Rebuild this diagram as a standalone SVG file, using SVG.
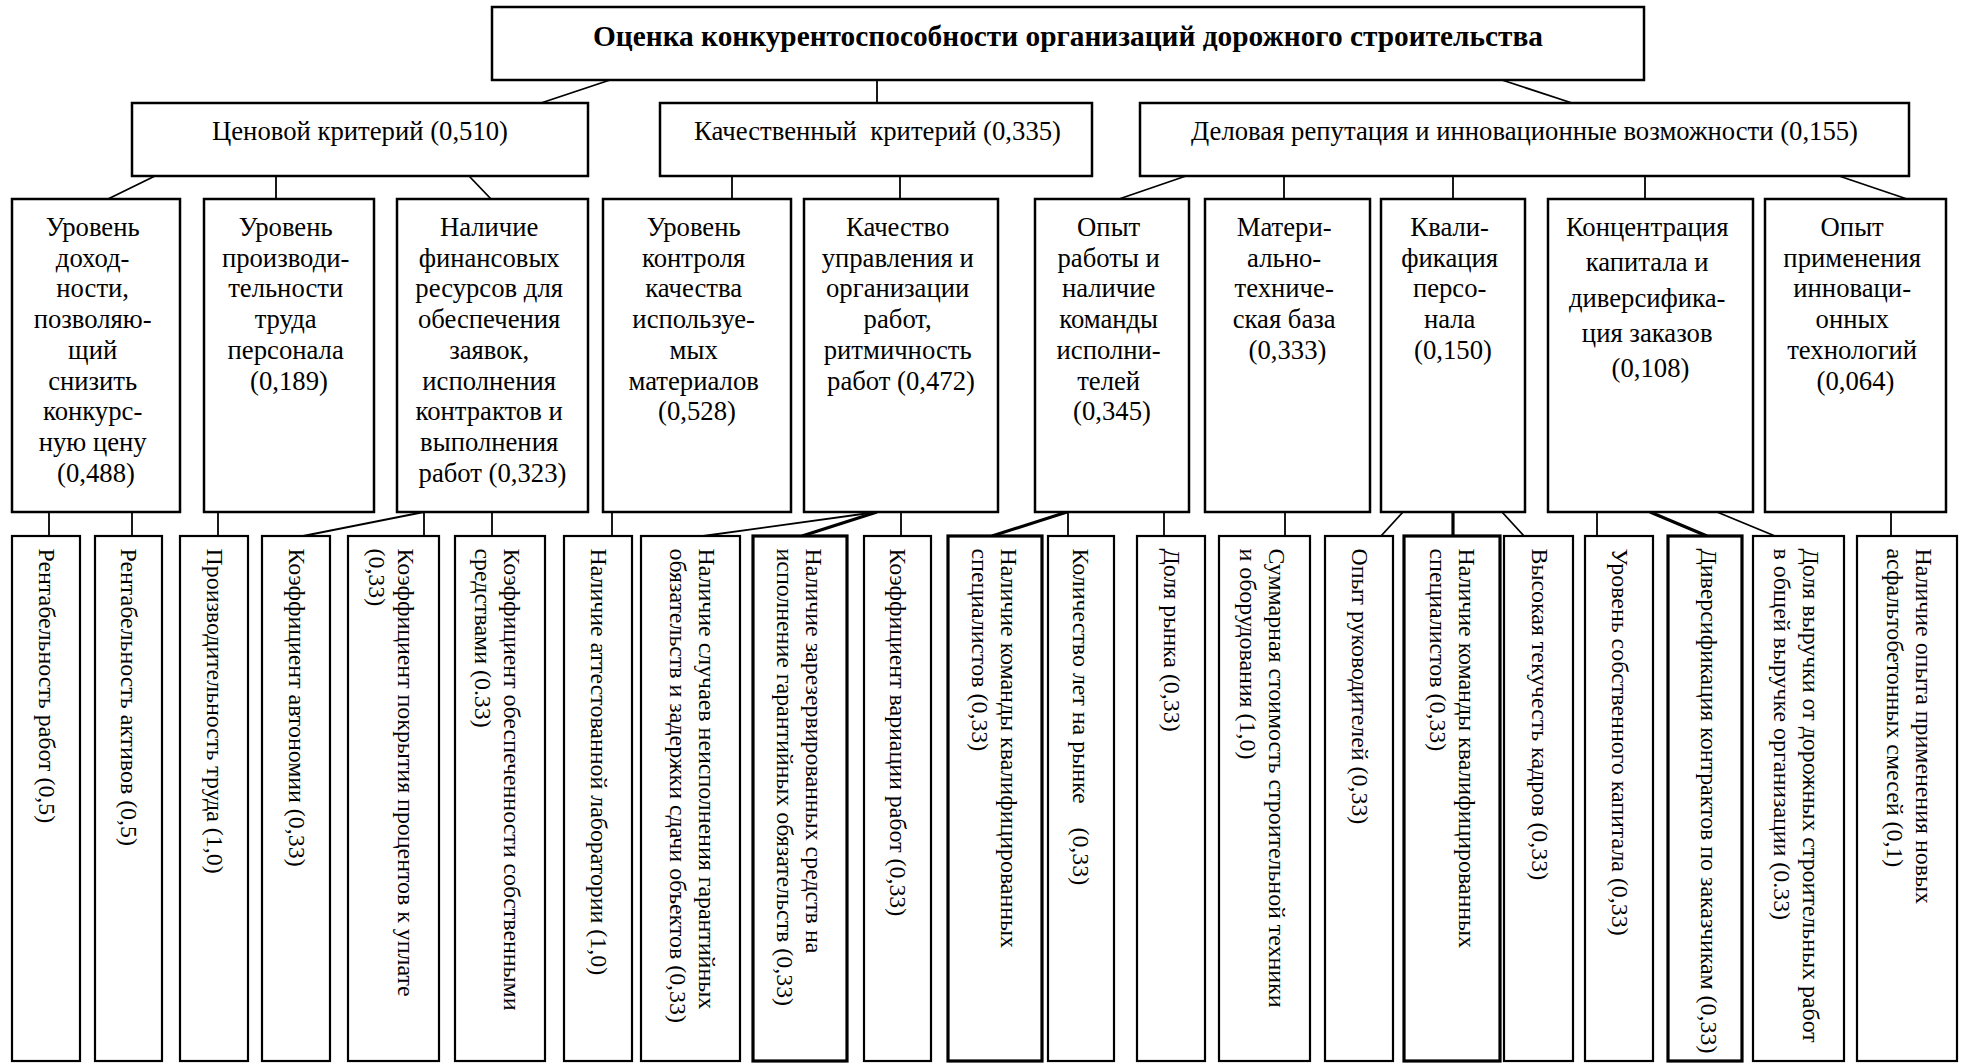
<svg xmlns="http://www.w3.org/2000/svg" width="1963" height="1064" viewBox="0 0 1963 1064">
  <style>
    .box { fill: #fff; stroke: #000; stroke-width: 2.5; }
    .leaf { fill: #fff; stroke: #000; stroke-width: 2.2; }
    .leaf.thick { stroke-width: 3.2; }
    .t { font-family: "Liberation Serif", "Times New Roman", serif; fill: #000; }
    .title { font-size: 29px; font-weight: bold; text-anchor: middle; }
    .l2 { font-size: 27px; text-anchor: middle; }
    .l3 { font-size: 26.7px; text-anchor: middle; }
    .lf { font-size: 23.9px; }
    .c { stroke: #000; stroke-width: 1.8; fill: none; }
    .c.thick { stroke-width: 3.2; }
  </style>
  <rect width="1963" height="1064" fill="#fff"/>

  <!-- connectors -->
  <g id="connectors">
    <line class="c" x1="610" y1="80" x2="541" y2="103"/>
    <line class="c" x1="877" y1="80" x2="877" y2="103"/>
    <line class="c" x1="1502" y1="80" x2="1572" y2="103"/>

    <line class="c" x1="155" y1="176" x2="108" y2="199"/>
    <line class="c" x1="276" y1="176" x2="276" y2="199"/>
    <line class="c" x1="469" y1="176" x2="491" y2="199"/>
    <line class="c" x1="732" y1="176" x2="732" y2="199"/>
    <line class="c" x1="900" y1="176" x2="900" y2="199"/>
    <line class="c" x1="1186" y1="176" x2="1119" y2="199"/>
    <line class="c" x1="1284" y1="176" x2="1284" y2="199"/>
    <line class="c" x1="1453" y1="176" x2="1453" y2="199"/>
    <line class="c" x1="1645" y1="176" x2="1645" y2="199"/>
    <line class="c" x1="1839" y1="176" x2="1907" y2="199"/>

    <line class="c" x1="49" y1="512" x2="49" y2="536"/>
    <line class="c" x1="132" y1="512" x2="132" y2="536"/>
    <line class="c" x1="218" y1="512" x2="218" y2="536"/>
    <line class="c" x1="424" y1="512" x2="303" y2="536"/>
    <line class="c" x1="424" y1="512" x2="424" y2="536"/>
    <line class="c" x1="492" y1="512" x2="492" y2="536"/>
    <line class="c" x1="612" y1="512" x2="612" y2="536"/>
    <line class="c" x1="877" y1="512" x2="703" y2="536"/>
    <line class="c thick" x1="877" y1="512" x2="802" y2="536"/>
    <line class="c" x1="901" y1="512" x2="901" y2="536"/>
    <line class="c thick" x1="1067" y1="512" x2="992" y2="536"/>
    <line class="c" x1="1068" y1="512" x2="1068" y2="536"/>
    <line class="c" x1="1164" y1="512" x2="1164" y2="536"/>
    <line class="c" x1="1285" y1="512" x2="1285" y2="536"/>
    <line class="c" x1="1403" y1="512" x2="1381" y2="536"/>
    <line class="c thick" x1="1453" y1="512" x2="1453" y2="536"/>
    <line class="c" x1="1502" y1="512" x2="1524" y2="536"/>
    <line class="c" x1="1597" y1="512" x2="1597" y2="536"/>
    <line class="c thick" x1="1650" y1="512" x2="1707" y2="536"/>
    <line class="c" x1="1717" y1="512" x2="1775" y2="536"/>
    <line class="c" x1="1891" y1="512" x2="1891" y2="536"/>
  </g>

  <!-- root -->
  <g id="root">
    <rect class="box" x="492" y="7" width="1152" height="73"/>
    <text class="t title" x="1068" y="46" textLength="950" lengthAdjust="spacingAndGlyphs">Оценка конкурентоспособности организаций дорожного строительства</text>
  </g>

  <!-- criteria -->
  <g id="price">
    <rect class="box" x="132" y="103" width="456" height="73"/>
    <text class="t l2" x="360" y="139.5" textLength="296" lengthAdjust="spacingAndGlyphs">Ценовой критерий (0,510)</text>
  </g>
  <g id="quality">
    <rect class="box" x="660" y="103" width="432" height="73"/>
    <text class="t l2" x="877.5" y="139.5" textLength="367" lengthAdjust="spacingAndGlyphs" xml:space="preserve">Качественный  критерий (0,335)</text>
  </g>
  <g id="reputation">
    <rect class="box" x="1140" y="103" width="769" height="73"/>
    <text class="t l2" x="1524.5" y="139.5" textLength="667" lengthAdjust="spacingAndGlyphs">Деловая репутация и инновационные возможности (0,155)</text>
  </g>

  <!-- sub-criteria -->
  <g id="b1">
    <rect class="box" x="12" y="199" width="168" height="313"/>
    <text class="t l3">
      <tspan x="96" y="235.7">Уровень</tspan>
      <tspan x="96" y="266.5">доход-</tspan>
      <tspan x="96" y="297.2">ности,</tspan>
      <tspan x="96" y="328">позволяю-</tspan>
      <tspan x="96" y="358.7">щий</tspan>
      <tspan x="96" y="389.5">снизить</tspan>
      <tspan x="96" y="420.2">конкурс-</tspan>
      <tspan x="96" y="451">ную цену</tspan>
      <tspan x="96" y="481.7">(0,488)</tspan>
    </text>
  </g>
  <g id="b2">
    <rect class="box" x="204" y="199" width="170" height="313"/>
    <text class="t l3">
      <tspan x="289" y="235.7">Уровень</tspan>
      <tspan x="289" y="266.5">производи-</tspan>
      <tspan x="289" y="297.2">тельности</tspan>
      <tspan x="289" y="328">труда</tspan>
      <tspan x="289" y="358.7">персонала</tspan>
      <tspan x="289" y="389.5">(0,189)</tspan>
    </text>
  </g>
  <g id="b3">
    <rect class="box" x="397" y="199" width="191" height="313"/>
    <text class="t l3">
      <tspan x="492.5" y="235.7">Наличие</tspan>
      <tspan x="492.5" y="266.5">финансовых</tspan>
      <tspan x="492.5" y="297.2">ресурсов для</tspan>
      <tspan x="492.5" y="328">обеспечения</tspan>
      <tspan x="492.5" y="358.7">заявок,</tspan>
      <tspan x="492.5" y="389.5">исполнения</tspan>
      <tspan x="492.5" y="420.2">контрактов и</tspan>
      <tspan x="492.5" y="451">выполнения</tspan>
      <tspan x="492.5" y="481.7">работ (0,323)</tspan>
    </text>
  </g>
  <g id="b4">
    <rect class="box" x="603" y="199" width="188" height="313"/>
    <text class="t l3">
      <tspan x="697" y="235.7">Уровень</tspan>
      <tspan x="697" y="266.5">контроля</tspan>
      <tspan x="697" y="297.2">качества</tspan>
      <tspan x="697" y="328">используе-</tspan>
      <tspan x="697" y="358.7">мых</tspan>
      <tspan x="697" y="389.5">материалов</tspan>
      <tspan x="697" y="420.2">(0,528)</tspan>
    </text>
  </g>
  <g id="b5">
    <rect class="box" x="804" y="199" width="194" height="313"/>
    <text class="t l3">
      <tspan x="901" y="235.7">Качество</tspan>
      <tspan x="901" y="266.5">управления и</tspan>
      <tspan x="901" y="297.2">организации</tspan>
      <tspan x="901" y="328">работ,</tspan>
      <tspan x="901" y="358.7">ритмичность</tspan>
      <tspan x="901" y="389.5">работ (0,472)</tspan>
    </text>
  </g>
  <g id="b6">
    <rect class="box" x="1035" y="199" width="154" height="313"/>
    <text class="t l3">
      <tspan x="1112" y="235.7">Опыт</tspan>
      <tspan x="1112" y="266.5">работы и</tspan>
      <tspan x="1112" y="297.2">наличие</tspan>
      <tspan x="1112" y="328">команды</tspan>
      <tspan x="1112" y="358.7">исполни-</tspan>
      <tspan x="1112" y="389.5">телей</tspan>
      <tspan x="1112" y="420.2">(0,345)</tspan>
    </text>
  </g>
  <g id="b7">
    <rect class="box" x="1205" y="199" width="165" height="313"/>
    <text class="t l3">
      <tspan x="1287.5" y="235.7">Матери-</tspan>
      <tspan x="1287.5" y="266.5">ально-</tspan>
      <tspan x="1287.5" y="297.2">техниче-</tspan>
      <tspan x="1287.5" y="328">ская база</tspan>
      <tspan x="1287.5" y="358.7">(0,333)</tspan>
    </text>
  </g>
  <g id="b8">
    <rect class="box" x="1381" y="199" width="144" height="313"/>
    <text class="t l3">
      <tspan x="1453" y="235.7">Квали-</tspan>
      <tspan x="1453" y="266.5">фикация</tspan>
      <tspan x="1453" y="297.2">персо-</tspan>
      <tspan x="1453" y="328">нала</tspan>
      <tspan x="1453" y="358.7">(0,150)</tspan>
    </text>
  </g>
  <g id="b9">
    <rect class="box" x="1548" y="199" width="205" height="313"/>
    <text class="t l3">
      <tspan x="1650.5" y="235.7">Концентрация</tspan>
      <tspan x="1650.5" y="271.1">капитала и</tspan>
      <tspan x="1650.5" y="306.5">диверсифика-</tspan>
      <tspan x="1650.5" y="341.9">ция заказов</tspan>
      <tspan x="1650.5" y="377.3">(0,108)</tspan>
    </text>
  </g>
  <g id="b10">
    <rect class="box" x="1765" y="199" width="181" height="313"/>
    <text class="t l3">
      <tspan x="1855.5" y="235.7">Опыт</tspan>
      <tspan x="1855.5" y="266.5">применения</tspan>
      <tspan x="1855.5" y="297.2">инноваци-</tspan>
      <tspan x="1855.5" y="328">онных</tspan>
      <tspan x="1855.5" y="358.7">технологий</tspan>
      <tspan x="1855.5" y="389.5">(0,064)</tspan>
    </text>
  </g>

  <!-- indicators (vertical text) -->
  <g id="l1">
    <rect class="leaf" x="12" y="536" width="68" height="525"/>
    <text class="t lf" transform="translate(38.5,548.5) rotate(90)">Рентабельность работ (0,5)</text>
  </g>
  <g id="l2">
    <rect class="leaf" x="95" y="536" width="67" height="525"/>
    <text class="t lf" transform="translate(120.5,548.5) rotate(90)">Рентабельность активов (0,5)</text>
  </g>
  <g id="l3">
    <rect class="leaf" x="180" y="536" width="68" height="525"/>
    <text class="t lf" transform="translate(206.5,548.5) rotate(90)">Производительность труда (1,0)</text>
  </g>
  <g id="l4">
    <rect class="leaf" x="262" y="536" width="68" height="525"/>
    <text class="t lf" transform="translate(288.5,548.5) rotate(90)">Коэффициент автономии (0,33)</text>
  </g>
  <g id="l5">
    <rect class="leaf" x="348" y="536" width="91" height="525"/>
    <text class="t lf" transform="translate(397.5,548.5) rotate(90)"><tspan x="0" y="0">Коэффициент покрытия процентов к уплате</tspan><tspan x="0" y="29">(0,33)</tspan></text>
  </g>
  <g id="l6">
    <rect class="leaf" x="455" y="536" width="90" height="525"/>
    <text class="t lf" transform="translate(503.5,548.5) rotate(90)"><tspan x="0" y="0">Коэффициент обеспеченности собственными</tspan><tspan x="0" y="29">средствами (0.33)</tspan></text>
  </g>
  <g id="l7">
    <rect class="leaf" x="564" y="536" width="68" height="525"/>
    <text class="t lf" transform="translate(590.5,548.5) rotate(90)">Наличие аттестованной лаборатории (1,0)</text>
  </g>
  <g id="l8">
    <rect class="leaf" x="641" y="536" width="99" height="525"/>
    <text class="t lf" transform="translate(698.5,548.5) rotate(90)"><tspan x="0" y="0">Наличие случаев неисполнения гарантийных</tspan><tspan x="0" y="29">обязательств и задержки сдачи объектов (0,33)</tspan></text>
  </g>
  <g id="l9">
    <rect class="leaf thick" x="753" y="536" width="94" height="525"/>
    <text class="t lf" transform="translate(805.5,548.5) rotate(90)"><tspan x="0" y="0">Наличие зарезервированных средств на</tspan><tspan x="0" y="29">исполнение гарантийных обязательств (0,33)</tspan></text>
  </g>
  <g id="l10">
    <rect class="leaf" x="864" y="536" width="67" height="525"/>
    <text class="t lf" transform="translate(889.5,548.5) rotate(90)">Коэффициент вариации работ (0,33)</text>
  </g>
  <g id="l11">
    <rect class="leaf thick" x="948" y="536" width="94" height="525"/>
    <text class="t lf" transform="translate(1000.5,548.5) rotate(90)"><tspan x="0" y="0">Наличие команды квалифицированных</tspan><tspan x="0" y="29">специалистов (0,33)</tspan></text>
  </g>
  <g id="l12">
    <rect class="leaf" x="1048" y="536" width="66" height="525"/>
    <text class="t lf" transform="translate(1072.5,548.5) rotate(90)" xml:space="preserve">Количество лет на рынке    (0,33)</text>
  </g>
  <g id="l13">
    <rect class="leaf" x="1137" y="536" width="68" height="525"/>
    <text class="t lf" transform="translate(1163.5,548.5) rotate(90)">Доля рынка (0,33)</text>
  </g>
  <g id="l14">
    <rect class="leaf" x="1219" y="536" width="91" height="525"/>
    <text class="t lf" transform="translate(1268.5,548.5) rotate(90)"><tspan x="0" y="0">Суммарная стоимость строительной техники</tspan><tspan x="0" y="29">и оборудования (1,0)</tspan></text>
  </g>
  <g id="l15">
    <rect class="leaf" x="1325" y="536" width="68" height="525"/>
    <text class="t lf" transform="translate(1351.5,548.5) rotate(90)">Опыт руководителей (0,33)</text>
  </g>
  <g id="l16">
    <rect class="leaf thick" x="1404" y="536" width="96" height="525"/>
    <text class="t lf" transform="translate(1458.5,548.5) rotate(90)"><tspan x="0" y="0">Наличие команды квалифицированных</tspan><tspan x="0" y="29">специалистов (0,33)</tspan></text>
  </g>
  <g id="l17">
    <rect class="leaf" x="1504" y="536" width="69" height="525"/>
    <text class="t lf" transform="translate(1531.5,548.5) rotate(90)">Высокая текучесть кадров (0,33)</text>
  </g>
  <g id="l18">
    <rect class="leaf" x="1585" y="536" width="68" height="525"/>
    <text class="t lf" transform="translate(1611.5,548.5) rotate(90)">Уровень собственного капитала (0,33)</text>
  </g>
  <g id="l19">
    <rect class="leaf thick" x="1668" y="536" width="74" height="525"/>
    <text class="t lf" transform="translate(1700.5,548.5) rotate(90)">Диверсификация контрактов по заказчикам (0,33)</text>
  </g>
  <g id="l20">
    <rect class="leaf" x="1753" y="536" width="91" height="525"/>
    <text class="t lf" transform="translate(1802.5,548.5) rotate(90)"><tspan x="0" y="0">Доля выручки от дорожных строительных работ</tspan><tspan x="0" y="29">в общей выручке организации (0.33)</tspan></text>
  </g>
  <g id="l21">
    <rect class="leaf" x="1857" y="536" width="100" height="525"/>
    <text class="t lf" transform="translate(1915.5,548.5) rotate(90)"><tspan x="0" y="0">Наличие опыта применения новых</tspan><tspan x="0" y="29">асфальтобетонных смесей (0,1)</tspan></text>
  </g>
</svg>
